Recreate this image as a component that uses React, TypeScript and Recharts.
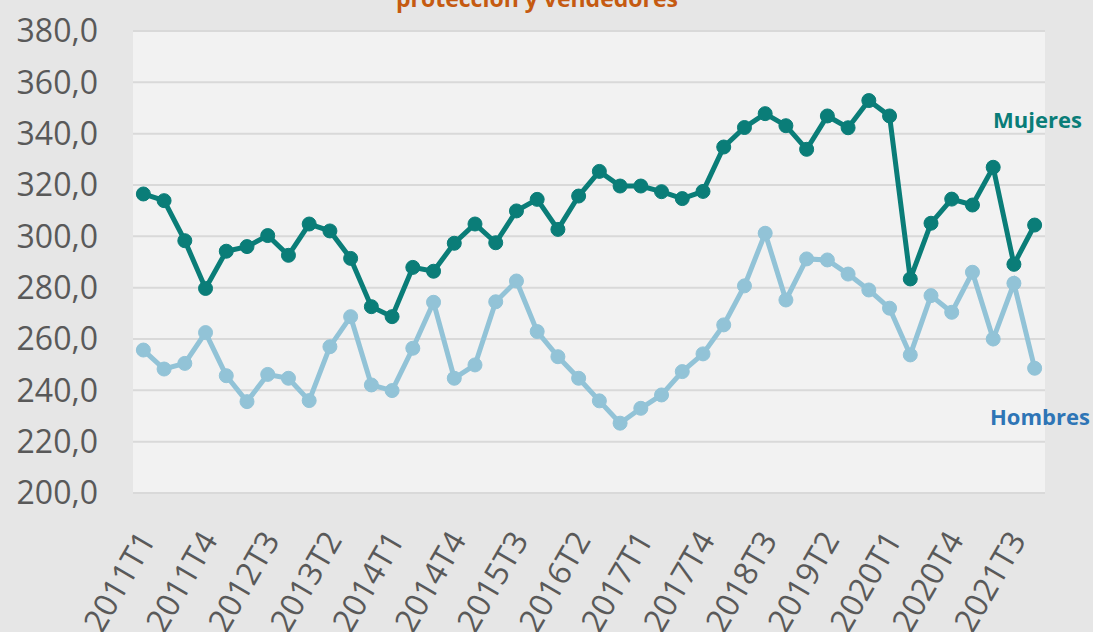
import React from 'react';
import { LineChart, Line, XAxis, YAxis, CartesianGrid } from 'recharts';

// Quarterly categories, 2011T1 .. 2021T4
const quarters = [
  '2011T1', '2011T2', '2011T3', '2011T4',
  '2012T1', '2012T2', '2012T3', '2012T4',
  '2013T1', '2013T2', '2013T3', '2013T4',
  '2014T1', '2014T2', '2014T3', '2014T4',
  '2015T1', '2015T2', '2015T3', '2015T4',
  '2016T1', '2016T2', '2016T3', '2016T4',
  '2017T1', '2017T2', '2017T3', '2017T4',
  '2018T1', '2018T2', '2018T3', '2018T4',
  '2019T1', '2019T2', '2019T3', '2019T4',
  '2020T1', '2020T2', '2020T3', '2020T4',
  '2021T1', '2021T2', '2021T3', '2021T4',
];

const mujeres = [
  316.5, 313.9, 298.3, 279.7, 294.2, 296.0, 300.3, 292.6, 304.8, 302.1, 291.4,
  272.6, 268.7, 287.9, 286.4, 297.3, 304.8, 297.5, 309.9, 314.4, 302.7, 315.7,
  325.3, 319.6, 319.6, 317.4, 314.7, 317.5, 334.8, 342.4, 347.8, 343.1, 333.9,
  346.9, 342.3, 352.9, 346.9, 283.4, 305.1, 314.5, 312.2, 326.9, 289.1, 304.4,
];

const hombres = [
  255.7, 248.3, 250.5, 262.5, 245.7, 235.6, 246.2, 244.7, 236.0, 257.0, 268.7,
  242.1, 239.9, 256.4, 274.3, 244.7, 249.9, 274.5, 282.6, 262.9, 253.1, 244.7,
  235.9, 227.2, 233.0, 238.2, 247.3, 254.2, 265.5, 280.7, 301.2, 275.2, 291.2,
  290.8, 285.3, 279.1, 272.0, 253.8, 276.9, 270.4, 286.0, 260.0, 281.7, 248.6,
];

const yTicks = [200, 220, 240, 260, 280, 300, 320, 340, 360, 380];

const data = quarters.map((q, i) => ({ q, mujeres: mujeres[i], hombres: hombres[i] }));

const FONT = "'Open Sans', sans-serif";
const TEAL = '#0a7d78';
const LIGHT_BLUE = '#92c3d7';

const fmt = (v: number) => v.toFixed(1).replace('.', ',');

const XTick: React.FC<any> = ({ x, y, payload }) => (
  <g transform={`translate(${x + 13},${y + 47})`}>
    <text
      textAnchor="end"
      transform="rotate(-60)"
      fill="#595959"
      fontSize={32}
      fontFamily={FONT}
    >
      {payload.value}
    </text>
  </g>
);

export default function App() {
  return (
    <div
      style={{
        position: 'absolute',
        left: 0,
        top: 0,
        width: 1093,
        height: 632,
        background: '#e6e6e6',
        overflow: 'hidden',
      }}
    >
      <LineChart
        width={1093}
        height={632}
        data={data}
        margin={{ top: 31, right: 48, bottom: 0, left: 0 }}
      >
        <CartesianGrid vertical={false} fill="#f2f2f2" stroke="#d9d9d9" strokeWidth={2} />
        <XAxis
          dataKey="q"
          interval={2}
          height={139}
          axisLine={false}
          tickLine={false}
          tickSize={0}
          tickMargin={0}
          padding={{ left: 10.36, right: 10.36 }}
          tick={<XTick />}
        />
        <YAxis
          domain={[200, 380]}
          ticks={yTicks}
          width={133}
          axisLine={false}
          tickLine={false}
          tickSize={0}
          tickMargin={35}
          tickFormatter={fmt}
          tick={{ fill: '#595959', fontSize: 32, fontFamily: FONT }}
        />
        <Line
          dataKey="hombres"
          stroke={LIGHT_BLUE}
          strokeWidth={5}
          dot={{ r: 7, fill: LIGHT_BLUE, stroke: LIGHT_BLUE, strokeWidth: 1 }}
          isAnimationActive={false}
        />
        <Line
          dataKey="mujeres"
          stroke={TEAL}
          strokeWidth={5}
          dot={{ r: 7, fill: TEAL, stroke: TEAL, strokeWidth: 1 }}
          isAnimationActive={false}
        />
      </LineChart>
      <svg
        width={1093}
        height={632}
        style={{ position: 'absolute', left: 0, top: 0, pointerEvents: 'none' }}
      >
        <text
          x={537}
          y={7}
          textAnchor="middle"
          fill="#c55a11"
          fontSize={23}
          fontWeight={700}
          fontFamily={FONT}
        >
          protección y vendedores
        </text>
        <text x={993} y={128} fill={TEAL} fontSize={22} fontWeight={700} fontFamily={FONT}>
          Mujeres
        </text>
        <text x={990} y={425} fill="#2e75b6" fontSize={22} fontWeight={700} fontFamily={FONT}>
          Hombres
        </text>
      </svg>
    </div>
  );
}
